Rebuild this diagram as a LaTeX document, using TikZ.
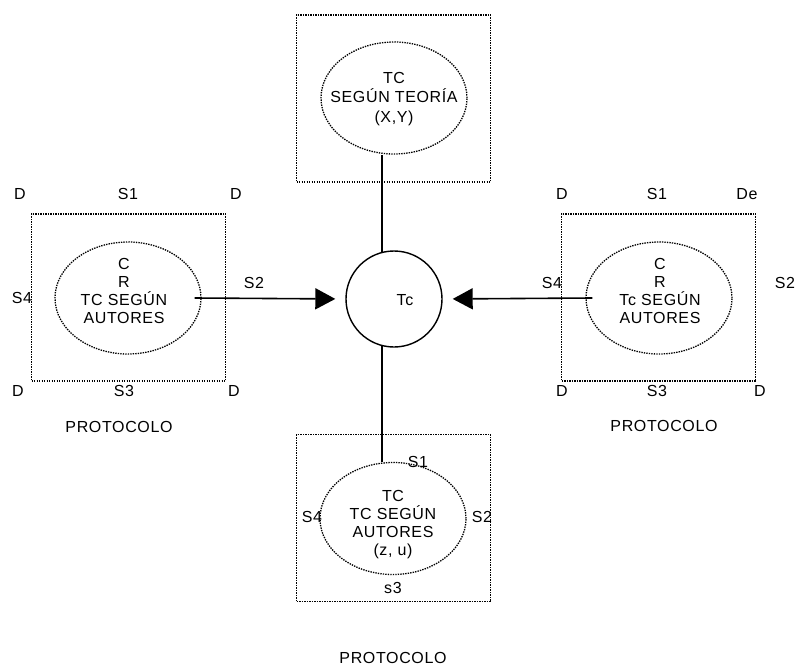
\documentclass[tikz,border=0pt]{standalone}
\usepackage{fontspec}
\setmainfont{Liberation Sans}[LetterSpace=4]
\usetikzlibrary{shapes.geometric,arrows.meta}
\begin{document}
\begin{tikzpicture}[x=1pt,y=-1pt,
  frame/.style={draw, dash pattern=on 1.4pt off 1.1pt, line width=1.3pt, minimum width=194pt, minimum height=167pt, inner sep=0pt},
  oval/.style={ellipse, draw, dash pattern=on 1.4pt off 1.1pt, line width=1.3pt, minimum width=146pt, minimum height=112pt, inner sep=0pt},
  txt/.style={align=center, inner sep=0pt, font=\fontsize{16}{18}\selectfont},
  lbl/.style={inner sep=0pt, text height=11.5pt, text depth=0pt, font=\fontsize{16}{18}\selectfont},
  hub/.style={circle, draw, line width=1.4pt, minimum size=96pt, inner sep=0pt},
  link/.style={line width=1.6pt},
  arrowlink/.style={line width=1.6pt, -{Triangle[length=20pt,width=21pt]}, shorten >=10pt}]
\useasboundingbox (0,0) rectangle (798,669);

% central circle
\node[hub] (tc) at (394,299) {};
\node[lbl] (tctxt) at (405,300) {Tc};

% top
\node[frame] (tb) at (393.5,98.5) {};
\node[oval] (te) at (394,98) {};
\node[txt, font=\fontsize{16}{19.5}\selectfont] (tt) at (394,99) {TC\\SEGÚN TEORÍA\\(X,Y)};

% left
\node[frame] (lb) at (128.5,297.5) {};
\node[oval] (le) at (128,298) {};
\node[txt] (lt) at (124,291) {C\\R\\TC SEGÚN\\AUTORES};
\node[lbl] (l1) at (20,194) {D};
\node[lbl] (l2) at (128,194) {S1};
\node[lbl] (l3) at (236,194) {D};
\node[lbl] (l4) at (22,298) {S4};
\node[lbl] (l5) at (254,283) {S2};
\node[lbl] (l6) at (18,391) {D};
\node[lbl] (l7) at (124,391) {S3};
\node[lbl] (l8) at (234,391) {D};
\node[lbl] (lp) at (119,427) {PROTOCOLO};

% right
\node[frame] (rb) at (658.7,297.5) {};
\node[oval] (re) at (659,298) {};
\node[txt] (rt) at (660,291) {C\\R\\Tc SEGÚN\\AUTORES};
\node[lbl] (r1) at (562,194) {D};
\node[lbl] (r2) at (657,194) {S1};
\node[lbl] (r3) at (747,194) {De};
\node[lbl] (r4) at (552,283) {S4};
\node[lbl] (r5) at (785,283) {S2};
\node[lbl] (r6) at (562,391) {D};
\node[lbl] (r7) at (657,391) {S3};
\node[lbl] (r8) at (760,391) {D};
\node[lbl] (rp) at (664,426) {PROTOCOLO};

% bottom
\node[frame] (bb) at (393.7,518.3) {};
\node[oval] (be) at (393,518.5) {};
\node[txt] (bt) at (393,525) {TC\\TC SEGÚN\\AUTORES\\(z, u)};
\node[lbl] (b1) at (418,462) {S1};
\node[lbl] (b4) at (312,517) {S4};
\node[lbl] (b2) at (482,517) {S2};
\node[lbl] (b3) at (393,588) {s3};
\node[lbl] (bp) at (393,658) {PROTOCOLO};

% connectors
\draw[arrowlink] ([xshift=-7pt]le.east) -- (tc.west);
\draw[arrowlink] ([xshift=7pt]re.west) -- (tc.east);
\draw[link] (tc.104) -- (tc.104 |- te.south);
\draw[link] (tc.256) -- (tc.256 |- be.north);
\end{tikzpicture}
\end{document}
